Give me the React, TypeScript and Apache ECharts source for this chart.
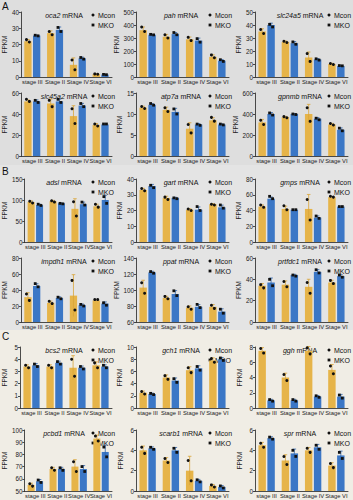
import React, { useEffect, useRef } from 'react';
import * as echarts from 'echarts';

const stages = ['stage III', 'Stage II', 'Stage IV', 'Stage VI'];
const seriesNames = ['Mcon', 'MKO'];
const sectionLabels = ['A', 'B', 'C'];

// ---- Section A ----
const oca2Mcon = [22, 27, 7.5, 1.8];
const oca2Mko = [25.5, 29, 11.5, 1.5];
const oca2McDots = [[23, 21.5], [28, 26], [10.5, 4.5], [1.9, 1.7]];
const oca2MkDots = [[25.7, 25.3], [30.5, 28], [12, 11], [1.6, 1.4]];

const pahMcon = [360, 310, 290, 155];
const pahMko = [325, 330, 280, 125];
const pahMcDots = [[385, 350], [325, 300], [305, 280], [170, 148]];
const pahMkDots = [[328, 324], [342, 325], [295, 268], [133, 120]];

const slc24Mcon = [35, 27, 15, 10];
const slc24Mko = [40, 26, 13.5, 8.5];
const slc24McDots = [[36.5, 33.5], [27.5, 26.5], [18, 12], [10.4, 9.6]];
const slc24MkDots = [[40.5, 38.5], [27, 25.2], [14, 13], [8.8, 8.6]];

const slc45Mcon = [52, 50, 38, 29.5];
const slc45Mko = [52, 52, 48, 30];
const slc45McDots = [[54, 52], [53, 47], [45, 31], [30.5, 28.5]];
const slc45MkDots = [[53, 51], [54, 51], [50, 47], [30.5, 30.5]];

const atp7aMcon = [11.5, 11, 6.5, 8.5];
const atp7aMko = [12.2, 10.5, 7.5, 7.5];
const atp7aMcDots = [[11.8, 11.3], [11.5, 10.6], [7.5, 5.5], [9.2, 8.3]];
const atp7aMkDots = [[12.5, 12.1], [11.2, 10.0], [7.6, 7.3], [7.6, 7.4]];

const gpnmbMcon = [320, 370, 400, 300];
const gpnmbMko = [400, 400, 355, 250];
const gpnmbMcDots = [[340, 300], [375, 365], [460, 330], [310, 295]];
const gpnmbMkDots = [[410, 390], [400, 395], [360, 345], [265, 240]];

// ---- Section B ----
const adslMcon = [95, 97, 79, 85];
const adslMko = [88, 92, 90, 100];
const adslMcDots = [[97, 93], [98, 95], [96, 62], [90, 83]];
const adslMkDots = [[90, 87], [92, 91], [95, 88], [108, 92]];

const gartMcon = [33, 28, 20.5, 24];
const gartMko = [35.5, 28, 20.5, 22];
const gartMcDots = [[34, 32.5], [28.5, 27], [21, 20], [24, 23.5]];
const gartMkDots = [[36, 34.5], [28, 27.5], [22.5, 20], [23.5, 21.5]];

const gmpsMcon = [45, 42, 42, 57];
const gmpsMko = [55, 41, 31, 45];
const gmpsMcDots = [[47, 44], [46, 41], [54, 28], [58, 57]];
const gmpsMkDots = [[58, 55], [41, 41], [33, 30], [45, 45]];

const impdhMcon = [31, 24, 33, 27];
const impdhMko = [45, 30, 21, 23];
const impdhMcDots = [[35, 27], [26, 23], [52, 15], [28, 28]];
const impdhMkDots = [[48, 44], [31, 29], [22, 20], [24, 21]];

const ppatMcon = [103, 90, 78, 79];
const ppatMko = [122, 95, 79, 73];
const ppatMcDots = [[109, 96], [92, 89], [79, 76], [81, 77]];
const ppatMkDots = [[123, 121], [99, 93], [82, 78], [76, 71]];

const prtfMcon = [34, 35, 33, 37];
const prtfMko = [37, 44, 47, 43];
const prtfMcDots = [[35, 32], [38, 33], [37, 27], [39, 36]];
const prtfMkDots = [[40, 34], [44, 43], [49, 46], [44, 42]];

// ---- Section C ----
const bcs2Mcon = [3.4, 3.4, 3.3, 3.5];
const bcs2Mko = [3.5, 3.7, 3.3, 3.4];
const bcs2McDots = [[3.5, 3.3], [3.5, 3.3], [4.0, 2.6], [3.7, 3.3]];
const bcs2MkDots = [[3.6, 3.4], [3.8, 3.6], [3.4, 3.2], [3.5, 3.3]];

const gch1Mcon = [2.5, 5, 6.2, 7.8];
const gch1Mko = [2.3, 4.5, 6.5, 8.0];
const gch1McDots = [[2.7, 2.3], [5.3, 4.7], [6.6, 5.8], [8.1, 7.5]];
const gch1MkDots = [[2.4, 2.2], [4.8, 4.2], [6.8, 6.2], [8.2, 7.8]];

const gghMcon = [7.5, 4, 7.5, 5];
const gghMko = [1.0, 1.0, 1.5, 1.5];
const gghMcDots = [[7.8, 7.2], [4.4, 3.6], [7.9, 7.1], [5.5, 4.5]];
const gghMkDots = [[1.1, 0.9], [1.1, 0.9], [1.6, 1.4], [1.7, 1.3]];

const pcbdMcon = [55, 68, 70, 93];
const pcbdMko = [58, 68, 68, 82];
const pcbdMcDots = [[56, 54], [69, 67], [74, 66], [95, 91]];
const pcbdMkDots = [[59, 57], [69, 67], [70, 66], [86, 78]];

const scarbMcon = [4, 3, 2, 0.5];
const scarbMko = [4.2, 4, 1.0, 0.4];
const scarbMcDots = [[4.3, 3.7], [3.2, 2.8], [3.0, 1.0], [0.6, 0.4]];
const scarbMkDots = [[4.3, 4.1], [4.2, 3.8], [1.1, 0.9], [0.5, 0.3]];

const sprMcon = [4.5, 3, 4, 2.5];
const sprMko = [5.2, 3.7, 4.3, 3.5];
const sprMcDots = [[4.7, 4.3], [3.4, 2.6], [4.2, 3.8], [2.7, 2.3]];
const sprMkDots = [[5.3, 5.1], [4.0, 3.4], [4.5, 4.1], [3.8, 3.2]];

const genes = ['oca2', 'pah', 'slc24a5', 'slc45a2', 'atp7a', 'gpnmb',
  'adsl', 'gart', 'gmps', 'impdh1', 'ppat', 'prtfdc1',
  'bcs2', 'gch1', 'ggh', 'pcbd1', 'scarb1', 'spr'];
const axisMin = [0, 0, 0, 0, 0, 0, 0, 0, 0, 0, 60, 0, 0, 0, 0, 50, 0, 0];
const axisMax = [40, 500, 50, 60, 15, 600, 150, 40, 80, 80, 140, 60, 5, 10, 8, 100, 6, 6];
const axisStep = [10, 100, 10, 20, 5, 200, 50, 10, 20, 20, 20, 20, 1, 2, 2, 10, 2, 2];

const mconVals = [oca2Mcon, pahMcon, slc24Mcon, slc45Mcon, atp7aMcon, gpnmbMcon, adslMcon, gartMcon, gmpsMcon, impdhMcon, ppatMcon, prtfMcon, bcs2Mcon, gch1Mcon, gghMcon, pcbdMcon, scarbMcon, sprMcon];
const mkoVals = [oca2Mko, pahMko, slc24Mko, slc45Mko, atp7aMko, gpnmbMko, adslMko, gartMko, gmpsMko, impdhMko, ppatMko, prtfMko, bcs2Mko, gch1Mko, gghMko, pcbdMko, scarbMko, sprMko];
const mconDots = [oca2McDots, pahMcDots, slc24McDots, slc45McDots, atp7aMcDots, gpnmbMcDots, adslMcDots, gartMcDots, gmpsMcDots, impdhMcDots, ppatMcDots, prtfMcDots, bcs2McDots, gch1McDots, gghMcDots, pcbdMcDots, scarbMcDots, sprMcDots];
const mkoDots = [oca2MkDots, pahMkDots, slc24MkDots, slc45MkDots, atp7aMkDots, gpnmbMkDots, adslMkDots, gartMkDots, gmpsMkDots, impdhMkDots, ppatMkDots, prtfMkDots, bcs2MkDots, gch1MkDots, gghMkDots, pcbdMkDots, scarbMkDots, sprMkDots];

// ---- layout / style ----
const W = 353, H = 500;
const COL_LEFT = [19, 136, 255];
const PLOT_W = 93;
const ROWS = [[12, 77], [93, 156], [179, 242], [258, 322], [347, 408], [430, 491]];
const SECTIONS = [[0, 165, '#dedede'], [165, 330, '#e4e4e4'], [330, 500, '#f0ede5']];
const SECTION_LABEL_Y = [1, 166, 331];
const COLORS = ['#e6b449', '#3b77c6'];
const ERR_COLORS = ['#d9a437', '#2f66ad'];
const BAR_FRAC = 0.32;
const GAP_FRAC = 0.2;
const FONT = 'Liberation Sans, Arial, sans-serif';

function markerSeries(gi: number, si: number, means: number[], dots: number[][]) {
  return {
    type: 'custom',
    xAxisIndex: gi,
    yAxisIndex: gi,
    z: 5,
    silent: true,
    data: means.map((m, i) => [i, m, dots[i][0], dots[i][1]]),
    renderItem: (params: any, api: any) => {
      const i = api.value(0);
      const m = api.value(1);
      const a = api.value(2);
      const b = api.value(3);
      const band = api.size([1, 0])[0];
      const w = band * BAR_FRAC;
      const g = w * GAP_FRAC;
      const off = (si === 0 ? -1 : 1) * (w + g) / 2;
      const c = api.coord([i, m]);
      const x = c[0] + off;
      const sd = Math.abs(a - b) / Math.SQRT2;
      const yTop = api.coord([i, m + sd])[1];
      const yBot = api.coord([i, m - sd])[1];
      const children: any[] = [];
      if (sd > 0) {
        children.push({ type: 'line', shape: { x1: x, y1: yTop, x2: x, y2: yBot }, style: { stroke: ERR_COLORS[si], lineWidth: 0.8 } });
        children.push({ type: 'line', shape: { x1: x - 1.8, y1: yTop, x2: x + 1.8, y2: yTop }, style: { stroke: ERR_COLORS[si], lineWidth: 0.8 } });
      }
      const pa = api.coord([i, a]);
      const pb = api.coord([i, b]);
      const pts = [[x - w * 0.2, pa[1]], [x + w * 0.2, pb[1]]];
      pts.forEach((p) => {
        if (si === 0) {
          children.push({ type: 'circle', shape: { cx: p[0], cy: p[1], r: 1.5 }, style: { fill: '#111' } });
        } else {
          children.push({ type: 'rect', shape: { x: p[0] - 1.4, y: p[1] - 1.4, width: 2.8, height: 2.8 }, style: { fill: '#111' } });
        }
      });
      return { type: 'group', children };
    },
  };
}

export default function App() {
  const ref = useRef<HTMLDivElement>(null);
  useEffect(() => {
    document.body.style.margin = '0';
    const chart = echarts.init(ref.current!, null, { renderer: 'svg', width: W, height: H });
    const grids: any[] = [];
    const xAxes: any[] = [];
    const yAxes: any[] = [];
    const series: any[] = [];
    const graphics: any[] = [];

    SECTIONS.forEach((s: any, k) => {
      graphics.push({ type: 'rect', z: -100, shape: { x: 0, y: s[0], width: W, height: s[1] - s[0] }, style: { fill: s[2] } });
      graphics.push({ type: 'text', x: 2, y: SECTION_LABEL_Y[k], style: { text: sectionLabels[k], font: `10px ${FONT}`, fill: '#111' } });
    });

    genes.forEach((gene, gi) => {
      const col = gi % 3;
      const row = Math.floor(gi / 3);
      const left = COL_LEFT[col];
      const [top, bottom] = ROWS[row];
      grids.push({ left, top, width: PLOT_W, height: bottom - top });
      xAxes.push({
        type: 'category', gridIndex: gi, data: stages,
        axisLine: { lineStyle: { color: '#222', width: 0.8 } },
        axisTick: { show: false },
        axisLabel: { interval: 0, fontSize: 5.8, color: '#222', margin: 2, fontFamily: FONT, hideOverlap: false },
      });
      yAxes.push({
        type: 'value', gridIndex: gi, min: axisMin[gi], max: axisMax[gi], interval: axisStep[gi],
        name: 'FPKM', nameLocation: 'middle', nameGap: 12, nameRotate: 90,
        nameTextStyle: { fontSize: 6.5, color: '#222', fontFamily: FONT },
        axisLine: { show: true, lineStyle: { color: '#222', width: 0.8 } },
        axisTick: { show: true, length: 2, lineStyle: { color: '#222', width: 0.8 } },
        axisLabel: { fontSize: 6.3, color: '#222', margin: 2, fontFamily: FONT },
        splitLine: { show: false },
      });
      [mconVals[gi], mkoVals[gi]].forEach((vals, si) => {
        series.push({
          type: 'bar', name: seriesNames[si], xAxisIndex: gi, yAxisIndex: gi,
          data: vals, barWidth: `${BAR_FRAC * 100}%`, barGap: `${GAP_FRAC * 100}%`,
          itemStyle: { color: COLORS[si] }, silent: true,
        });
      });
      series.push(markerSeries(gi, 0, mconVals[gi], mconDots[gi]));
      series.push(markerSeries(gi, 1, mkoVals[gi], mkoDots[gi]));

      graphics.push({
        type: 'text', x: left + 45, y: top + 3,
        style: {
          text: `{i|${gene}}{n| mRNA}`, align: 'center', verticalAlign: 'middle',
          rich: {
            i: { fontStyle: 'italic', fontSize: 7, fontFamily: FONT, fill: '#111' },
            n: { fontSize: 7, fontFamily: FONT, fill: '#111' },
          },
        },
      });
      const lx = left + 74;
      graphics.push({ type: 'circle', shape: { cx: lx, cy: top + 3, r: 1.5 }, style: { fill: '#111' } });
      graphics.push({ type: 'text', x: lx + 5, y: top + 3, style: { text: seriesNames[0], font: `7px ${FONT}`, fill: '#111', verticalAlign: 'middle' } });
      graphics.push({ type: 'rect', shape: { x: lx - 1.4, y: top + 11.6, width: 2.8, height: 2.8 }, style: { fill: '#111' } });
      graphics.push({ type: 'text', x: lx + 5, y: top + 13, style: { text: seriesNames[1], font: `7px ${FONT}`, fill: '#111', verticalAlign: 'middle' } });
    });

    chart.setOption({
      animation: false,
      grid: grids,
      xAxis: xAxes,
      yAxis: yAxes,
      series,
      graphic: graphics,
    });
    return () => chart.dispose();
  }, []);
  return <div ref={ref} style={{ width: W, height: H }} />;
}
